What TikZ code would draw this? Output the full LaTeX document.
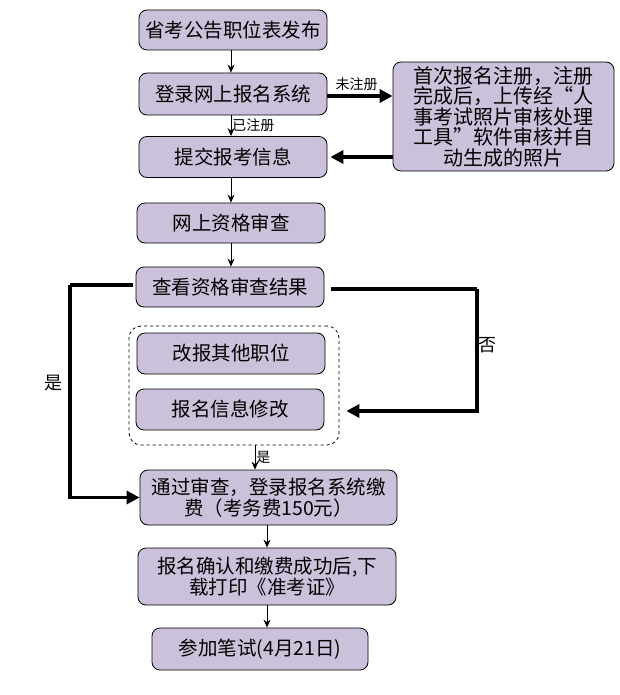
\documentclass[tikz,border=0pt]{standalone}
\usepackage{fontspec}
\setmainfont{Noto Sans CJK SC}
\usetikzlibrary{arrows.meta,positioning,calc}
\definecolor{boxfill}{RGB}{204,193,218}
\begin{document}
\begin{tikzpicture}[x=1pt,y=-1pt,
  box/.style={draw=black, line width=0.8pt, fill=boxfill, rounded corners=8pt,
    align=center, inner sep=0pt, font=\fontsize{19.5}{22}\selectfont},
  thinarr/.style={draw=black, line width=0.9pt, -{Stealth[length=8pt,width=7pt]}},
  thickarr/.style={draw=black, line width=3.2pt, -{Triangle[length=13pt,width=13pt]}},
  thickline/.style={draw=black, line width=3.2pt},
  smalllab/.style={font=\fontsize{14}{16}\selectfont, inner sep=1pt},
  biglab/.style={font=\fontsize{18}{20}\selectfont, inner sep=1pt}]
\useasboundingbox (0,0) rectangle (620,695);
\fill[white] (0,0) rectangle (620,695);

\node[box, minimum width=188pt, minimum height=40pt] (b1) at (233,30) {省考公告职位表发布};
\node[box, minimum width=188pt, minimum height=42pt] (b2) at (233,94) {登录网上报名系统};
\node[box, minimum width=188pt, minimum height=41pt] (b3) at (233,157) {提交报考信息};
\node[box, minimum width=221pt, minimum height=109pt, font=\fontsize{20}{20.5}\selectfont] (r) at (503.5,116.5)
  {首次报名注册，注册\\完成后，上传经“人\\事考试照片审核处理\\工具”软件审核并自\\动生成的照片};
\node[box, minimum width=188pt, minimum height=40pt] (b4) at (231,223) {网上资格审查};
\node[box, minimum width=188pt, minimum height=40pt] (b5) at (230,287) {查看资格审查结果};
\node[box, minimum width=188pt, minimum height=41pt] (b6) at (231,353.5) {改报其他职位};
\node[box, minimum width=188pt, minimum height=41pt] (b7) at (230,409.5) {报名信息修改};
\node[draw=black, dashed, line width=0.8pt, rounded corners=12pt, minimum width=210pt, minimum height=119pt, inner sep=0pt] (grp) at (234,385.5) {};
\node[box, minimum width=257pt, minimum height=55pt, font=\fontsize{19.5}{21}\selectfont] (b8) at (268.5,497.5)
  {通过审查，登录报名系统缴\\费（考务费150元）};
\node[box, minimum width=258pt, minimum height=57pt, font=\fontsize{19.5}{21}\selectfont] (b9) at (267,576.5)
  {报名确认和缴费成功后,下\\载打印《准考证》};
\node[box, minimum width=216pt, minimum height=42pt] (b10) at (260,649) {参加笔试(4月21日)};

% connectors
\draw[thinarr] (b1.south -| 231,0) -- (b2.north -| 231,0);
\draw[thinarr] (b2.south -| 231,0) -- node[smalllab, right, pos=0.45] (l1) {已注册} (b3.north -| 231,0);
\draw[thickarr] (b2.east |- 0,96) -- node[smalllab, above, pos=0.45, yshift=3pt] (l2) {未注册} (r.west |- 0,96);
\draw[thickarr] (r.west |- 0,157) -- ([xshift=3pt]b3.east |- 0,157);
\draw[thinarr] (b3.south -| 231,0) -- (b4.north -| 231,0);
\draw[thinarr] (b4.south -| 231,0) -- (b5.north -| 231,0);

\coordinate (nR) at (477,289);
\coordinate (nL) at (70,285);
\draw[thickline] ([xshift=7pt]b5.east |- nR) -- (nR);
\draw[thickarr] (nR) -- (nR |- 0,411) -- ([xshift=7pt]grp.east |- 0,411);
\node[biglab] (lno) at (487,345) {否};

\draw[thickline] ([xshift=-3pt]b5.west |- nL) -- (nL);
\draw[thickarr] (nL) -- (nL |- b8.west) -- (b8.west);
\node[biglab] (lyes) at (53,383) {是};

\draw[thinarr] (grp.south -| 255,0) -- node[smalllab, right] (l3) {是} (b8.north -| 255,0);
\draw[thinarr] (b8.south -| 267,0) -- (b9.north -| 267,0);
\draw[thinarr] (b9.south -| 267,0) -- (b10.north -| 267,0);
\end{tikzpicture}
\end{document}
